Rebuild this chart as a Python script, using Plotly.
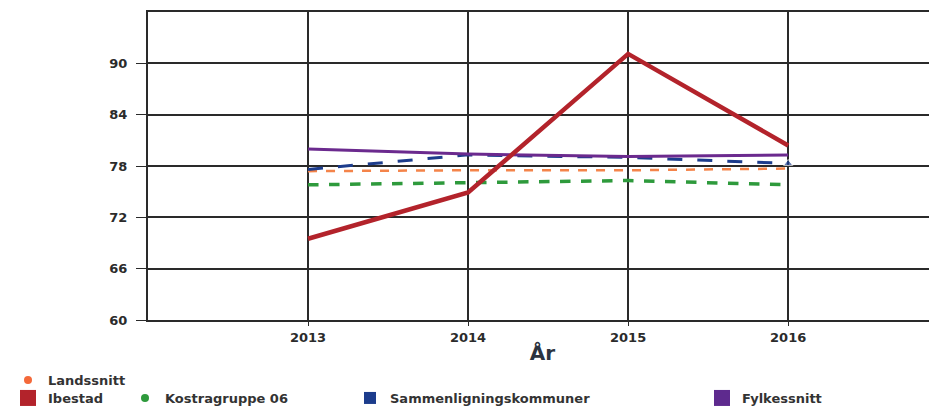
import plotly.graph_objects as go

years = [2013, 2014, 2015, 2016]
landssnitt = [77.4, 77.5, 77.5, 77.7]
ibestad = [69.5, 74.9, 91.1, 80.4]
kostragruppe = [75.8, 76.0, 76.3, 75.8]
sammenligning = [77.6, 79.3, 79.0, 78.3]
fylkessnitt = [80.0, 79.4, 79.1, 79.3]
y_ticks = [60, 66, 72, 78, 84, 90]

FONT = "DejaVu Sans"
OFF = 8  # page body margin
W, H = 937 - OFF, 406 - OFF
fig = go.Figure()

# Lines (no legend)
fig.add_trace(go.Scatter(x=years, y=kostragruppe, mode="lines", showlegend=False,
                         line=dict(color="#2e9a3c", width=3.5, dash="dash")))
fig.add_trace(go.Scatter(x=years, y=landssnitt, mode="lines", showlegend=False,
                         line=dict(color="#f4844a", width=2.5, dash="dash")))
fig.add_trace(go.Scatter(x=years, y=sammenligning, mode="lines+markers", showlegend=False,
                         line=dict(color="#1c3c8c", width=3, dash="longdash"),
                         marker=dict(symbol="triangle-up", size=[0, 0, 0, 8], color="#1c3c8c")))
fig.add_trace(go.Scatter(x=years, y=fylkessnitt, mode="lines", showlegend=False,
                         line=dict(color="#6b2a8e", width=3)))
fig.add_trace(go.Scatter(x=years, y=ibestad, mode="lines", showlegend=False,
                         line=dict(color="#b3232b", width=4.5)))

# Legend entries
leg_items = [
    ("Landssnitt", "#f4693a", "circle", 8, "legend"),
    ("Ibestad", "#b3232b", "square", 17, "legend2"),
    ("Kostragruppe 06", "#2e9a3c", "circle", 8, "legend3"),
    ("Sammenligningskommuner", "#1c3c8c", "square", 12, "legend4"),
    ("Fylkessnitt", "#5e2a8e", "square", 17, "legend5"),
]
for name, col, sym, sz, lg in leg_items:
    fig.add_trace(go.Scatter(x=[None], y=[None], mode="markers", name=name, legend=lg,
                             marker=dict(color=col, symbol=sym, size=sz)))

lfont = dict(family=FONT, size=13, color="#333333", weight="bold")

def cx(px):
    return (px - OFF) / W

def cy(py):
    return (H - (py - OFF)) / H

legend_common = dict(orientation="h", font=lfont, bgcolor="rgba(0,0,0,0)",
                     xanchor="left", yanchor="middle", itemwidth=30,
                     xref="container", yref="container")

fig.update_layout(
    width=W, height=H,
    margin=dict(l=148 - OFF, r=0, t=12 - OFF, b=86, autoexpand=False),
    paper_bgcolor="white", plot_bgcolor="white",
    legend=dict(x=cx(-2), y=cy(380), **legend_common),
    legend2=dict(x=cx(-2), y=cy(398), **legend_common),
    legend3=dict(x=cx(125), y=cy(398), **legend_common),
    legend4=dict(x=cx(350), y=cy(398), **legend_common),
    legend5=dict(x=cx(702), y=cy(398), **legend_common),
    xaxis=dict(range=[2012, 2016.93], tickvals=years, ticktext=[str(y) for y in years],
               showgrid=True, gridcolor="#2a2a2a", gridwidth=2,
               showline=True, linecolor="#2a2a2a", linewidth=2, mirror=True,
               ticks="outside", ticklen=4, tickcolor="#2a2a2a",
               tickfont=dict(family=FONT, size=13, color="#2b2b2b", weight="bold"),
               title=dict(text="År", font=dict(family=FONT, size=20, color="#2b3340", weight="bold"),
                          standoff=6),
               zeroline=False, automargin=False),
    yaxis=dict(range=[60, 96], tickvals=y_ticks,
               showgrid=True, gridcolor="#2a2a2a", gridwidth=2,
               showline=True, linecolor="#2a2a2a", linewidth=2,
               ticks="outside", ticklen=10, tickcolor="#2a2a2a", ticklabelstandoff=6,
               tickfont=dict(family=FONT, size=13, color="#2b2b2b", weight="bold"),
               zeroline=False, automargin=False),
)

fig.write_html("out.html")
